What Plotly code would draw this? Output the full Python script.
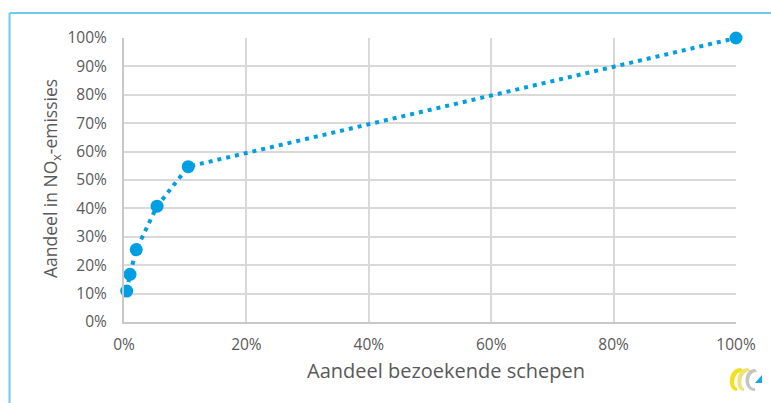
import plotly.graph_objects as go

# Cumulative share of visiting ships vs. cumulative share of NOx emissions
share_ships = [0.0044, 0.0098, 0.020, 0.054, 0.105, 1.0]
share_nox = [0.109, 0.168, 0.255, 0.408, 0.547, 1.0]

x_ticks = [0, 0.2, 0.4, 0.6, 0.8, 1.0]
x_labels = ["0%", "20%", "40%", "60%", "80%", "100%"]
y_ticks = [i / 10 for i in range(11)]
y_labels = [f"{i * 10}%" for i in range(11)]

x_title = "Aandeel bezoekende schepen"
y_title = "Aandeel in NO<sub>x</sub>-emissies"

W, H = 771, 403
ML, MR, MT, MB = 124, 35, 38, 81
PW, PH = W - ML - MR, H - MT - MB

BLUE = "#009fe3"
TEXT = "#595959"
FONT = "Open Sans"


def px(X):
    """Figure pixel x -> paper fraction."""
    return (X - ML) / PW


def py(Y):
    """Figure pixel y (from top) -> paper fraction."""
    return (H - MB - Y) / PH


fig = go.Figure()
fig.add_trace(go.Scatter(
    x=share_ships, y=share_nox, mode="lines+markers",
    line=dict(color=BLUE, width=4, dash="4px,5px"),
    marker=dict(color=BLUE, size=13),
    cliponaxis=False, hoverinfo="skip", showlegend=False,
))

shapes = []
# light blue frame (left and top edges)
shapes.append(dict(type="line", xref="paper", yref="paper",
                   x0=px(9.5), x1=px(9.5), y0=py(13), y1=py(H + 5),
                   line=dict(color="#6ccbee", width=2)))
shapes.append(dict(type="line", xref="paper", yref="paper",
                   x0=px(9.5), x1=px(W + 5), y0=py(13), y1=py(13),
                   line=dict(color="#6ccbee", width=2)))


# small logo in the lower right corner, in pixel units relative to the plot corner
def logo_path(cmds):
    out = []
    for cmd in cmds:
        if isinstance(cmd, str):
            out.append(cmd)
        else:
            X, Y = cmd
            out.append(f"{X - (ML + PW):.2f},{(H - MB) - Y:.2f}")
    return " ".join(out)


def c_band(top, bot, left, thick, tail=0.0):
    """Slanted C-shaped band from a top point to a bottom point, bulging to x=left."""
    (tx, ty), (bx, by) = top, bot
    mid = (tx + bx) / 2
    ctrl = (left - 0.25 * mid) / 0.75
    ctrl_in = (left + thick - 0.25 * (mid + thick)) / 0.75
    return logo_path([
        "M", (tx, ty),
        "C", (ctrl, ty), (ctrl, by), (bx + tail, by),
        "L", (bx + tail, by - thick * 0.6),
        "C", (ctrl_in, by - thick * 0.6), (ctrl_in, ty + thick * 0.6), (tx + thick * 0.5, ty + thick * 0.6),
        "Z",
    ])


logo_parts = [
    (c_band((741, 368), (737, 391), 730, 5.5), "#f4e01a"),
    (c_band((748, 368), (744, 391), 737.5, 5.0), "#efe27a"),
    (c_band((755, 369), (751, 391), 745, 4.5, tail=4), "#c4c4c4"),
    (logo_path(["M", (755, 383), "L", (762, 375), "L", (762, 383), "Z"]), "#1aa6e6"),
]
for path, col in logo_parts:
    shapes.append(dict(type="path", xref="paper", yref="paper",
                       xsizemode="pixel", ysizemode="pixel",
                       xanchor=1, yanchor=0, path=path,
                       fillcolor=col, line=dict(width=0)))

fig.update_layout(
    width=W, height=H,
    margin=dict(l=ML, r=MR, t=MT, b=MB),
    paper_bgcolor="white", plot_bgcolor="white",
    font=dict(family=FONT, color=TEXT, size=15.5),
    shapes=shapes,
    annotations=[
        dict(text=x_title, xref="paper", yref="paper",
             x=px(446), y=py(370), xanchor="center", yanchor="middle",
             showarrow=False, font=dict(size=20, color=TEXT)),
        dict(text=y_title, xref="paper", yref="paper",
             x=px(51), y=py(179), xanchor="center", yanchor="middle", textangle=-90,
             showarrow=False, font=dict(size=17.5, color=TEXT)),
    ],
    xaxis=dict(
        range=[0, 1], tickvals=x_ticks, ticktext=x_labels,
        showgrid=True, gridcolor="#d9d9d9", gridwidth=1.5,
        showline=True, linecolor="#c8c8c8", linewidth=2,
        zeroline=False, ticks="", ticklabelstandoff=7,
        fixedrange=True,
    ),
    yaxis=dict(
        range=[0, 1], tickvals=y_ticks, ticktext=y_labels,
        showgrid=True, gridcolor="#d9d9d9", gridwidth=1.5,
        showline=True, linecolor="#c8c8c8", linewidth=2,
        zeroline=False, ticks="", ticklabelstandoff=12,
        fixedrange=True,
    ),
)

fig.write_html("out.html")
